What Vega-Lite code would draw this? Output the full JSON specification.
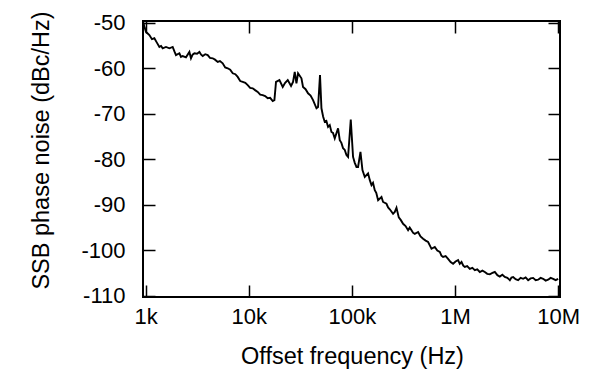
{
  "$schema": "https://vega.github.io/schema/vega-lite/v6.json",
  "width": 417,
  "height": 276,
  "autosize": {"type": "none"},
  "padding": {"left": 143, "top": 21, "right": 30, "bottom": 75},
  "background": "white",
  "config": {
    "view": {"stroke": "black", "strokeWidth": 2},
    "font": "Liberation Sans",
    "axis": {"domain": false, "grid": false, "tickColor": "black", "tickWidth": 1.5, "tickSize": 12, "offset": -12, "labelColor": "black", "titleColor": "black", "labelFont": "Liberation Sans", "titleFont": "Liberation Sans", "labelFontSize": 22, "titleFontSize": 23.5, "titleFontWeight": "normal"}
  },
  "data": {"values": [
    {"f": 950, "v": -49.9}, {"f": 975, "v": -51.0}, {"f": 1007, "v": -52.0}, {"f": 1040, "v": -52.3}, {"f": 1086, "v": -52.7}, {"f": 1150, "v": -53.6}, {"f": 1214, "v": -53.4},
    {"f": 1280, "v": -54.3}, {"f": 1358, "v": -55.3}, {"f": 1410, "v": -55.1}, {"f": 1462, "v": -55.6}, {"f": 1574, "v": -55.3}, {"f": 1698, "v": -55.6},
    {"f": 1827, "v": -55.3}, {"f": 1900, "v": -56.3}, {"f": 1967, "v": -57.1}, {"f": 2123, "v": -56.7}, {"f": 2200, "v": -57.5}, {"f": 2285, "v": -57.3},
    {"f": 2459, "v": -57.6}, {"f": 2654, "v": -56.4}, {"f": 2750, "v": -57.8}, {"f": 2850, "v": -57.0}, {"f": 2968, "v": -56.7},
    {"f": 3150, "v": -56.8}, {"f": 3319, "v": -56.4}, {"f": 3450, "v": -57.0}, {"f": 3573, "v": -57.3}, {"f": 3780, "v": -56.9}, {"f": 3995, "v": -57.1}, {"f": 4200, "v": -57.7}, {"f": 4467, "v": -57.8},
    {"f": 4700, "v": -58.1}, {"f": 4994, "v": -58.6}, {"f": 5250, "v": -58.4}, {"f": 5582, "v": -58.9}, {"f": 5900, "v": -59.8}, {"f": 6243, "v": -60.0}, {"f": 6600, "v": -60.3}, {"f": 6981, "v": -61.1},
    {"f": 7400, "v": -61.3}, {"f": 7805, "v": -61.9}, {"f": 8250, "v": -62.8}, {"f": 8727, "v": -63.0}, {"f": 9250, "v": -63.2}, {"f": 9757, "v": -63.7}, {"f": 10300, "v": -64.3}, {"f": 10909, "v": -64.4},
    {"f": 11500, "v": -64.8}, {"f": 12197, "v": -65.2}, {"f": 12900, "v": -65.8}, {"f": 13637, "v": -65.9}, {"f": 14400, "v": -66.1}, {"f": 15248, "v": -66.6}, {"f": 16100, "v": -66.5}, {"f": 17049, "v": -67.2},
    {"f": 17708, "v": -67.0}, {"f": 18351, "v": -63.0}, {"f": 19807, "v": -62.6}, {"f": 21326, "v": -64.1},
    {"f": 22500, "v": -63.2}, {"f": 23844, "v": -62.6}, {"f": 25664, "v": -63.9}, {"f": 26842, "v": -63.0}, {"f": 27877, "v": -60.8},
    {"f": 28955, "v": -63.3}, {"f": 30008, "v": -61.1}, {"f": 32371, "v": -62.2}, {"f": 33548, "v": -64.1},
    {"f": 35500, "v": -64.6}, {"f": 37519, "v": -65.5}, {"f": 39700, "v": -66.0}, {"f": 41955, "v": -67.0}, {"f": 45265, "v": -68.8}, {"f": 46906, "v": -68.5},
    {"f": 49000, "v": -61.5}, {"f": 50604, "v": -68.8}, {"f": 52500, "v": -70.6}, {"f": 54476, "v": -71.8}, {"f": 56500, "v": -71.6}, {"f": 58650, "v": -72.9},
    {"f": 60920, "v": -72.5}, {"f": 63274, "v": -74.0}, {"f": 65500, "v": -74.2}, {"f": 68113, "v": -75.4}, {"f": 73330, "v": -73.2},
    {"f": 76170, "v": -75.8}, {"f": 79000, "v": -76.4}, {"f": 81980, "v": -77.6}, {"f": 85000, "v": -77.9}, {"f": 88450, "v": -79.1}, {"f": 91670, "v": -79.5},
    {"f": 97360, "v": -71.3}, {"f": 102500, "v": -79.5}, {"f": 106500, "v": -80.8}, {"f": 110600, "v": -81.7}, {"f": 114600, "v": -81.7},
    {"f": 120900, "v": -78.4}, {"f": 126400, "v": -82.4}, {"f": 133100, "v": -83.9}, {"f": 143300, "v": -83.1},
    {"f": 149000, "v": -84.6}, {"f": 154600, "v": -85.7}, {"f": 160000, "v": -85.2}, {"f": 166400, "v": -86.8}, {"f": 172000, "v": -87.4}, {"f": 179200, "v": -89.0}, {"f": 193300, "v": -88.3},
    {"f": 200300, "v": -89.4}, {"f": 216100, "v": -89.8}, {"f": 224000, "v": -90.6}, {"f": 232600, "v": -91.0}, {"f": 250400, "v": -92.0},
    {"f": 260100, "v": -91.6}, {"f": 270200, "v": -90.7}, {"f": 284400, "v": -92.8}, {"f": 298000, "v": -93.4}, {"f": 313100, "v": -94.2}, {"f": 331000, "v": -94.7},
    {"f": 350000, "v": -95.6}, {"f": 363000, "v": -95.0}, {"f": 377700, "v": -95.6}, {"f": 392000, "v": -96.2}, {"f": 406500, "v": -96.4}, {"f": 437700, "v": -96.0},
    {"f": 462000, "v": -97.0}, {"f": 489400, "v": -97.5}, {"f": 518000, "v": -97.9}, {"f": 547200, "v": -98.2}, {"f": 570000, "v": -99.0}, {"f": 590300, "v": -99.7}, {"f": 635500, "v": -99.3},
    {"f": 672000, "v": -100.1}, {"f": 710700, "v": -100.4}, {"f": 737000, "v": -101.2}, {"f": 764800, "v": -101.5}, {"f": 810000, "v": -101.3}, {"f": 855200, "v": -101.9}, {"f": 905000, "v": -102.6}, {"f": 956300, "v": -103.0},
    {"f": 1010000, "v": -102.5}, {"f": 1069000, "v": -102.2}, {"f": 1110000, "v": -103.0}, {"f": 1154000, "v": -102.6}, {"f": 1200000, "v": -103.4}, {"f": 1242000, "v": -103.7}, {"f": 1310000, "v": -103.5}, {"f": 1389000, "v": -104.1},
    {"f": 1470000, "v": -103.9}, {"f": 1553000, "v": -104.4}, {"f": 1640000, "v": -104.2}, {"f": 1736000, "v": -104.8}, {"f": 1840000, "v": -104.5}, {"f": 1942000, "v": -104.8}, {"f": 2050000, "v": -105.2}, {"f": 2171000, "v": -105.3},
    {"f": 2300000, "v": -105.0}, {"f": 2427000, "v": -104.8}, {"f": 2570000, "v": -105.5}, {"f": 2714000, "v": -105.8}, {"f": 2870000, "v": -105.4}, {"f": 3034000, "v": -105.9}, {"f": 3210000, "v": -106.1}, {"f": 3393000, "v": -106.6},
    {"f": 3520000, "v": -106.0}, {"f": 3652000, "v": -105.9}, {"f": 3860000, "v": -106.4}, {"f": 4084000, "v": -106.6}, {"f": 4320000, "v": -106.1}, {"f": 4566000, "v": -106.3}, {"f": 4830000, "v": -106.0}, {"f": 5106000, "v": -106.6},
    {"f": 5400000, "v": -106.2}, {"f": 5709000, "v": -106.1}, {"f": 6040000, "v": -106.6}, {"f": 6384000, "v": -106.5}, {"f": 6750000, "v": -106.1}, {"f": 7137000, "v": -106.3}, {"f": 7550000, "v": -106.7}, {"f": 7980000, "v": -106.5},
    {"f": 8440000, "v": -106.1}, {"f": 8923000, "v": -106.3}, {"f": 9440000, "v": -106.6}, {"f": 9977000, "v": -106.3}
  ]},
  "layer": [
    {
      "mark": {"type": "line", "color": "black", "strokeWidth": 1.9, "interpolate": "linear", "clip": true},
      "encoding": {
        "x": {"field": "f", "type": "quantitative", "scale": {"type": "log", "domain": [942, 10400000], "nice": false},
          "axis": {"orient": "bottom", "values": [1000, 10000, 100000, 1000000, 10000000],
            "labelExpr": "datum.value >= 1e6 ? format(datum.value/1e6,'d') + 'M' : format(datum.value/1e3,'d') + 'k'",
            "labelPadding": 9, "labelFlush": false, "labelOverlap": false,
            "title": "Offset frequency (Hz)", "titleX": 209, "titleY": 71, "titleBaseline": "middle", "titleAnchor": null}},
        "y": {"field": "v", "type": "quantitative", "scale": {"domain": [-110.3, -49.6], "nice": false, "zero": false},
          "axis": {"orient": "left", "values": [-110, -100, -90, -80, -70, -60, -50],
            "labelExpr": "'' + datum.value", "labelPadding": 18, "labelFlush": false, "labelOverlap": false,
            "title": "SSB phase noise (dBc/Hz)", "titleX": -114, "titleY": 129, "titleBaseline": "middle", "titleAngle": 270, "titleAlign": "center"}}
      }
    },
    {
      "mark": {"type": "line", "strokeOpacity": 0},
      "encoding": {
        "x": {"field": "f", "type": "quantitative", "scale": {"type": "log", "domain": [942, 10400000], "nice": false},
          "axis": {"orient": "top", "values": [1000, 10000, 100000, 1000000, 10000000], "labels": false, "title": null}},
        "y": {"field": "v", "type": "quantitative", "scale": {"domain": [-110.3, -49.6], "nice": false, "zero": false},
          "axis": {"orient": "right", "values": [-110, -100, -90, -80, -70, -60, -50], "labels": false, "title": null}}
      }
    }
  ],
  "resolve": {"axis": {"x": "independent", "y": "independent"}}
}
